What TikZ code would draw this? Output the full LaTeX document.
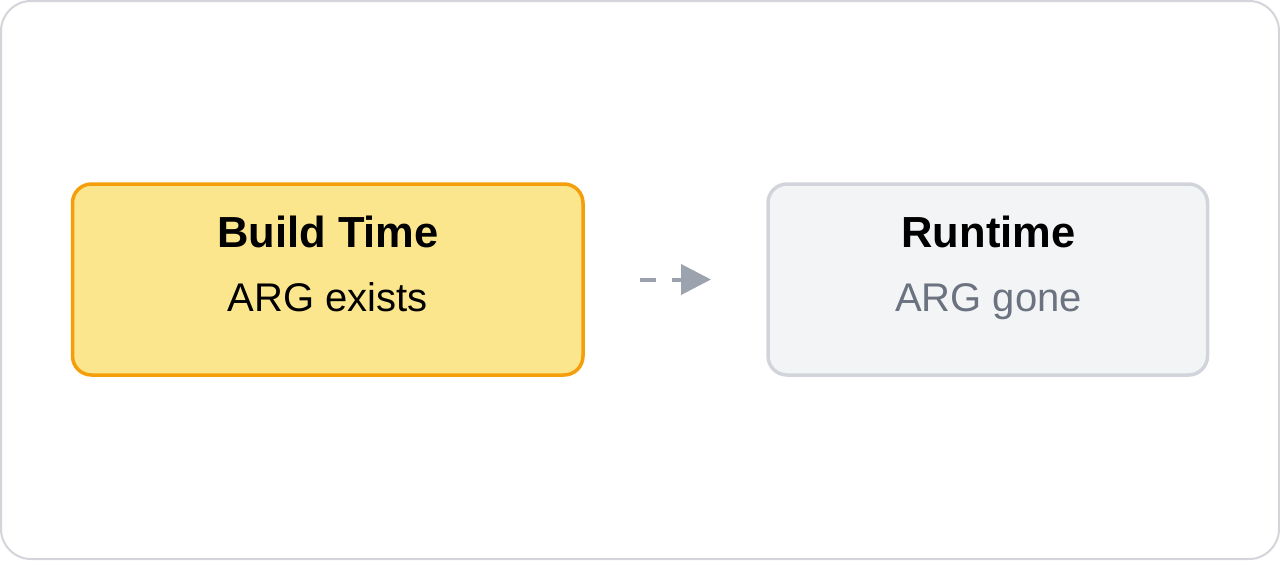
\documentclass[tikz,border=0pt]{standalone}
\usepackage{fontspec}
\setmainfont{Liberation Sans}
\usetikzlibrary{arrows.meta}
\definecolor{frameC}{HTML}{D4D5DA}
\definecolor{buildFill}{HTML}{FCE68D}
\definecolor{buildDraw}{HTML}{F59E0B}
\definecolor{runFill}{HTML}{F3F4F6}
\definecolor{runDraw}{HTML}{D1D5DB}
\definecolor{subGray}{HTML}{6B7280}
\definecolor{arrowC}{HTML}{9CA3AF}
\tikzset{
  box/.style={draw, line width=3.5pt, rounded corners=19pt, inner sep=0pt, outer sep=0pt},
  buildbox/.style={box, fill=buildFill, draw=buildDraw},
  runbox/.style={box, fill=runFill, draw=runDraw},
  titletext/.style={font=\fontsize{43.5}{50}\selectfont\bfseries, anchor=base, inner sep=0pt},
  subtext/.style={font=\fontsize{40}{46}\selectfont, anchor=base, inner sep=0pt},
  flow/.style={draw=arrowC, line width=4pt, dash pattern=on 16pt off 16pt,
    -{Triangle[length=30pt,width=30pt,fill=arrowC]}}
}
\begin{document}
\begin{tikzpicture}[x=1pt,y=-1pt]
\useasboundingbox (0,0) rectangle (1280,560);
\draw[frameC, line width=2pt, rounded corners=30pt, fill=white] (1,1) rectangle (1279,559);
\node[buildbox, minimum width=510.5pt, minimum height=191pt] (b1) at (327.75,279.5) {};
\node[runbox, minimum width=439.5pt, minimum height=191pt] (b2) at (987.75,279.5) {};
\node[titletext] (b1t) at (328,247) {Build Time};
\node[subtext] (b1s) at (328,311) {ARG exists};
\node[titletext] (b2t) at (988.5,247) {Runtime};
\node[subtext, text=subGray] (b2s) at (988.5,311) {ARG gone};
\draw[flow, shorten <=57pt, shorten >=57pt] (b1.east) -- (b2.west);
\end{tikzpicture}
\end{document}
